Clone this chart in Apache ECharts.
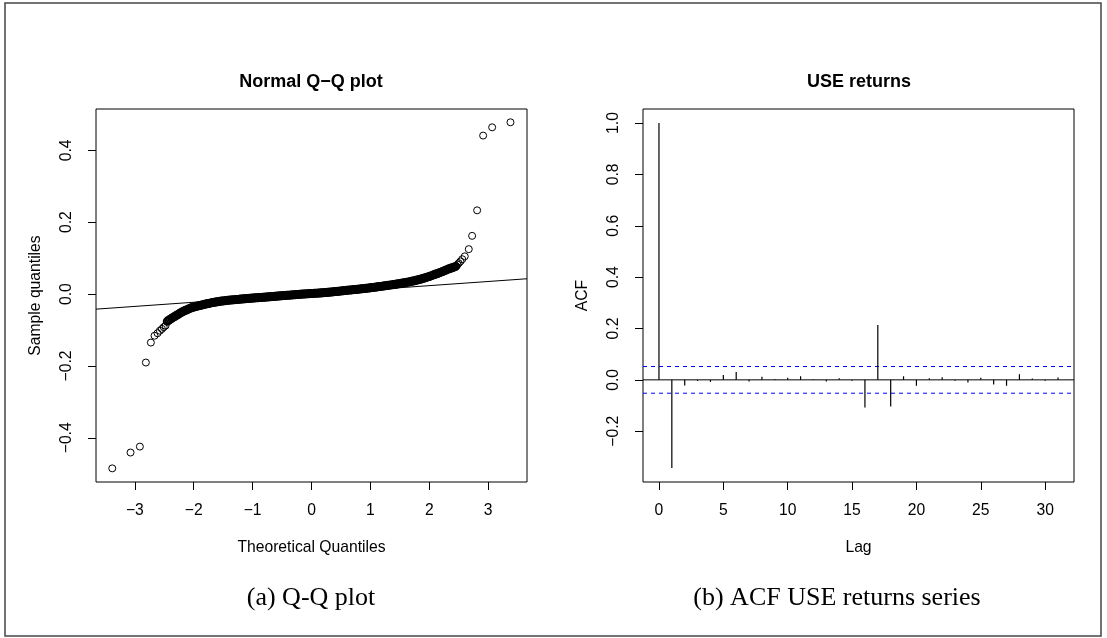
<!DOCTYPE html>
<html>
<head>
<meta charset="utf-8">
<script src="https://cdn.jsdelivr.net/npm/echarts@6/dist/echarts.min.js"></script>
<style>
html,body{margin:0;padding:0;background:#fff;}
#chart{width:1107px;height:638px;}
</style>
</head>
<body>
<div id="chart"></div>
<script>
// ---- Q-Q plot data: dense central band ----
const qqBandTheoretical = [-2.450,-2.425,-2.400,-2.375,-2.350,-2.325,-2.300,-2.275,-2.250,-2.225,-2.200,-2.175,-2.150,-2.125,-2.100,-2.075,-2.050,-2.025,-2.000,-1.975,-1.950,-1.925,-1.900,-1.875,-1.850,-1.825,-1.800,-1.775,-1.750,-1.725,-1.700,-1.675,-1.650,-1.625,-1.600,-1.575,-1.550,-1.525,-1.500,-1.475,-1.450,-1.425,-1.400,-1.375,-1.350,-1.325,-1.300,-1.275,-1.250,-1.225,-1.200,-1.175,-1.150,-1.125,-1.100,-1.075,-1.050,-1.025,-1.000,-0.975,-0.950,-0.925,-0.900,-0.875,-0.850,-0.825,-0.800,-0.775,-0.750,-0.725,-0.700,-0.675,-0.650,-0.625,-0.600,-0.575,-0.550,-0.525,-0.500,-0.475,-0.450,-0.425,-0.400,-0.375,-0.350,-0.325,-0.300,-0.275,-0.250,-0.225,-0.200,-0.175,-0.150,-0.125,-0.100,-0.075,-0.050,-0.025,0.000,0.025,0.050,0.075,0.100,0.125,0.150,0.175,0.200,0.225,0.250,0.275,0.300,0.325,0.350,0.375,0.400,0.425,0.450,0.475,0.500,0.525,0.550,0.575,0.600,0.625,0.650,0.675,0.700,0.725,0.750,0.775,0.800,0.825,0.850,0.875,0.900,0.925,0.950,0.975,1.000,1.025,1.050,1.075,1.100,1.125,1.150,1.175,1.200,1.225,1.250,1.275,1.300,1.325,1.350,1.375,1.400,1.425,1.450,1.475,1.500,1.525,1.550,1.575,1.600,1.625,1.650,1.675,1.700,1.725,1.750,1.775,1.800,1.825,1.850,1.875,1.900,1.925,1.950,1.975,2.000,2.025,2.050,2.075,2.100,2.125,2.150,2.175,2.200,2.225,2.250,2.275,2.300,2.325,2.350,2.375,2.400,2.425,2.450];
const qqBandSample = [-0.0760,-0.0730,-0.0700,-0.0675,-0.0650,-0.0625,-0.0600,-0.0575,-0.0550,-0.0525,-0.0500,-0.0480,-0.0460,-0.0442,-0.0425,-0.0407,-0.0390,-0.0375,-0.0360,-0.0350,-0.0340,-0.0330,-0.0320,-0.0310,-0.0300,-0.0290,-0.0280,-0.0271,-0.0262,-0.0254,-0.0245,-0.0238,-0.0230,-0.0222,-0.0215,-0.0209,-0.0203,-0.0196,-0.0190,-0.0185,-0.0180,-0.0175,-0.0170,-0.0166,-0.0162,-0.0159,-0.0155,-0.0151,-0.0148,-0.0144,-0.0140,-0.0137,-0.0133,-0.0130,-0.0126,-0.0123,-0.0120,-0.0116,-0.0113,-0.0110,-0.0106,-0.0103,-0.0100,-0.0097,-0.0094,-0.0091,-0.0088,-0.0085,-0.0082,-0.0078,-0.0075,-0.0071,-0.0068,-0.0064,-0.0061,-0.0057,-0.0054,-0.0050,-0.0047,-0.0043,-0.0040,-0.0036,-0.0033,-0.0030,-0.0027,-0.0023,-0.0020,-0.0016,-0.0013,-0.0010,-0.0007,-0.0004,-0.0001,0.0002,0.0005,0.0008,0.0010,0.0013,0.0015,0.0018,0.0020,0.0023,0.0025,0.0028,0.0031,0.0034,0.0037,0.0041,0.0044,0.0048,0.0052,0.0056,0.0060,0.0064,0.0068,0.0072,0.0077,0.0081,0.0086,0.0090,0.0095,0.0099,0.0104,0.0108,0.0112,0.0116,0.0120,0.0124,0.0128,0.0133,0.0137,0.0141,0.0146,0.0150,0.0155,0.0160,0.0165,0.0170,0.0175,0.0180,0.0186,0.0191,0.0197,0.0202,0.0208,0.0213,0.0219,0.0225,0.0230,0.0236,0.0242,0.0248,0.0254,0.0260,0.0266,0.0272,0.0279,0.0285,0.0292,0.0299,0.0306,0.0313,0.0320,0.0328,0.0337,0.0346,0.0355,0.0364,0.0372,0.0381,0.0390,0.0402,0.0413,0.0425,0.0437,0.0450,0.0463,0.0477,0.0490,0.0505,0.0520,0.0535,0.0550,0.0565,0.0580,0.0595,0.0610,0.0628,0.0645,0.0663,0.0680,0.0695,0.0710,0.0725,0.0740,0.0755,0.0770];
// ---- Q-Q tails (individually visible circles) ----
const qqTailTheoretical = [-3.384,-3.073,-2.915,-2.813,-2.728,-2.666,-2.615,-2.575,-2.540,-2.510,-2.479,2.480,2.500,2.530,2.560,2.603,2.671,2.728,2.813,2.915,3.068,3.379];
const qqTailSample = [-0.485,-0.441,-0.4245,-0.1905,-0.135,-0.116,-0.109,-0.102,-0.097,-0.092,-0.088,0.082,0.086,0.091,0.097,0.105,0.125,0.162,0.233,0.441,0.464,0.478];
// qq reference line endpoints (read at plot edges)
const qqLineX = [-3.66, 3.66];
const qqLineY = [-0.042, 0.0426];
const qqXTicks = [-3,-2,-1,0,1,2,3];
const qqYTicks = [-0.4,-0.2,0.0,0.2,0.4];

// ---- ACF data ----
const acfLags = [0,1,2,3,4,5,6,7,8,9,10,11,12,13,14,15,16,17,18,19,20,21,22,23,24,25,26,27,28,29,30,31];
const acfValues = [1.0,-0.343,-0.022,-0.004,-0.008,0.019,0.031,-0.006,0.012,0.003,0.008,0.014,0.002,-0.006,0.006,-0.003,-0.108,0.214,-0.104,0.014,-0.023,0.006,0.010,-0.003,-0.010,0.008,-0.018,-0.023,0.022,0.005,-0.003,0.009];
const acfConf = [0.052, -0.052];
const acfXRange = [-1.24, 32.24];
const acfXTicks = [0,5,10,15,20,25,30];
const acfYTicks = [-0.2,0.0,0.2,0.4,0.6,0.8,1.0];

const FONT = 'Liberation Sans, Arial, sans-serif';
const LABEL_SIZE = 15.7;
const fmt = v => (Math.abs(v) < 1e-9 ? '0' : String(v)).replace('-', '\u2212');
const fmt1 = v => (Math.abs(v) < 1e-9 ? 0 : v).toFixed(1).replace('-', '\u2212');

function xAxisOf(gridIndex, min, max, ticks, name, f) {
  return {
    type: 'value', gridIndex, min, max, name,
    nameLocation: 'middle', nameGap: 58,
    nameTextStyle: {color: '#000', fontFamily: FONT, fontSize: LABEL_SIZE},
    axisLine: {show: false, onZero: false},
    axisTick: {show: true, inside: false, length: 8, customValues: ticks, lineStyle: {color: '#000', width: 1}},
    axisLabel: {show: true, margin: 21, customValues: ticks, formatter: f, color: '#000', fontFamily: FONT, fontSize: LABEL_SIZE},
    splitLine: {show: false}
  };
}
function yAxisOf(gridIndex, min, max, ticks, name, f) {
  return {
    type: 'value', gridIndex, min, max, name,
    nameLocation: 'middle', nameGap: 52, nameRotate: 90,
    nameTextStyle: {color: '#000', fontFamily: FONT, fontSize: LABEL_SIZE},
    axisLine: {show: false, onZero: false},
    axisTick: {show: true, inside: false, length: 8, customValues: ticks, lineStyle: {color: '#000', width: 1}},
    axisLabel: {show: true, rotate: 90, margin: 21, customValues: ticks, formatter: f, color: '#000', fontFamily: FONT, fontSize: LABEL_SIZE},
    splitLine: {show: false}
  };
}

const circleStyle = {color: 'rgba(0,0,0,0)', borderColor: '#000', borderWidth: 1, opacity: 1};
const bandStyle = {color: 'rgba(0,0,0,0)', borderColor: '#000', borderWidth: 2, opacity: 1};
function hline(y, color, type) {
  return {
    type: 'line', xAxisIndex: 1, yAxisIndex: 1, silent: true, symbol: 'none',
    data: acfXRange.map(x => [x, y]),
    lineStyle: {color, width: 1, type}, z: 1
  };
}

const chart = echarts.init(document.getElementById('chart'), null, {renderer: 'canvas'});
const option = {
  backgroundColor: '#fff',
  animation: false,
  grid: [
    {left: 96, top: 109, width: 431, height: 373, show: true, borderColor: '#000', borderWidth: 1, backgroundColor: 'transparent'},
    {left: 643, top: 109, width: 431, height: 373, show: true, borderColor: '#000', borderWidth: 1, backgroundColor: 'transparent'}
  ],
  xAxis: [
    xAxisOf(0, -3.66, 3.66, qqXTicks, 'Theoretical Quantiles', fmt),
    xAxisOf(1, acfXRange[0], acfXRange[1], acfXTicks, 'Lag', fmt)
  ],
  yAxis: [
    yAxisOf(0, -0.523, 0.515, qqYTicks, 'Sample quantiles', fmt1),
    yAxisOf(1, -0.3977, 1.0546, acfYTicks, 'ACF', fmt1)
  ],
  graphic: [
    {type: 'rect', shape: {x: 5, y: 3, width: 1096, height: 633}, style: {fill: 'none', stroke: '#444', lineWidth: 1.5}, silent: true},
    {type: 'text', x: 311, y: 82, style: {text: 'Normal Q\u2212Q plot', fontFamily: FONT, fontWeight: 'bold', fontSize: 18, fill: '#000', align: 'center', verticalAlign: 'middle'}},
    {type: 'text', x: 859, y: 82, style: {text: 'USE returns', fontFamily: FONT, fontWeight: 'bold', fontSize: 18, fill: '#000', align: 'center', verticalAlign: 'middle'}},
    {type: 'text', x: 311, y: 598, style: {text: '(a) Q-Q plot', fontFamily: 'Liberation Serif, serif', fontSize: 26, fill: '#000', align: 'center', verticalAlign: 'middle'}},
    {type: 'text', x: 837, y: 598, style: {text: '(b) ACF USE returns series', fontFamily: 'Liberation Serif, serif', fontSize: 26, fill: '#000', align: 'center', verticalAlign: 'middle'}}
  ],
  series: [
    {
      type: 'line', xAxisIndex: 0, yAxisIndex: 0, clip: true,
      data: qqLineX.map((x, i) => [x, qqLineY[i]]),
      symbol: 'none', lineStyle: {color: '#000', width: 1}, silent: true, z: 2
    },
    {
      type: 'scatter', xAxisIndex: 0, yAxisIndex: 0,
      data: qqBandTheoretical.map((x, i) => [x, qqBandSample[i]]),
      symbol: 'circle', symbolSize: 7, itemStyle: bandStyle, silent: true, z: 3, large: false
    },
    {
      type: 'scatter', xAxisIndex: 0, yAxisIndex: 0,
      data: qqTailTheoretical.map((x, i) => [x, qqTailSample[i]]),
      symbol: 'circle', symbolSize: 7, itemStyle: circleStyle, silent: true, z: 3
    },
    hline(0, '#000', 'solid'),
    hline(acfConf[0], '#0000ff', [4, 4]),
    hline(acfConf[1], '#0000ff', [4, 4]),
    {
      type: 'bar', xAxisIndex: 1, yAxisIndex: 1,
      data: acfLags.map((l, i) => [l, acfValues[i]]),
      barWidth: 1.2, itemStyle: {color: '#000'}, silent: true, z: 2
    }
  ]
};
chart.setOption(option);
</script>
</body>
</html>
